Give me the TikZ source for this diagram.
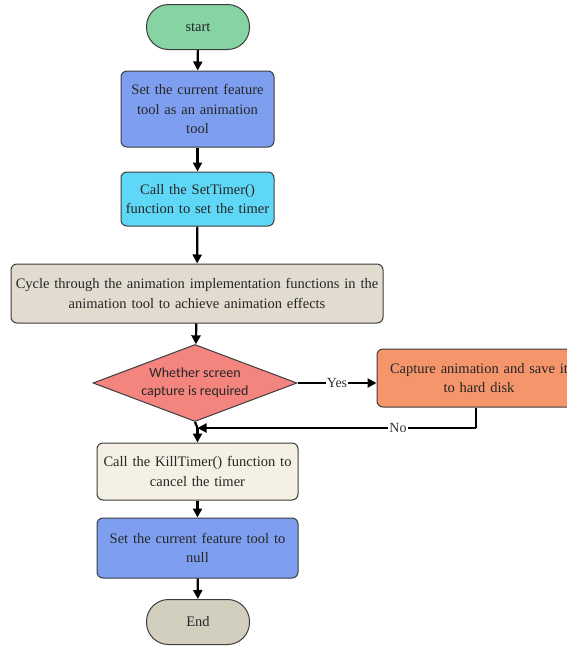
\documentclass[tikz,border=0pt]{standalone}
\usepackage{fontspec}
\setmainfont{Liberation Serif}
\newfontfamily\diafont{Carlito}
\usetikzlibrary{shapes.geometric,arrows.meta}
\definecolor{cstart}{HTML}{86D4A3}
\definecolor{cblue}{HTML}{7E9FF0}
\definecolor{ccyan}{HTML}{5FD8F8}
\definecolor{cbeige}{HTML}{E2DCD0}
\definecolor{cred}{HTML}{F4857E}
\definecolor{corange}{HTML}{F5956B}
\definecolor{clight}{HTML}{F4F0E3}
\definecolor{cend}{HTML}{D3CFBF}
\definecolor{cedge}{HTML}{3C3C3C}
\tikzset{
  base/.style={draw=cedge, line width=1pt, align=center, text=black!85,
    font=\fontsize{14.5}{19.5}\selectfont, inner sep=2pt},
  term/.style={base, rounded corners=22pt, minimum width=103pt, minimum height=45pt},
  proc/.style={base, rounded corners=6pt},
  dec/.style={base, diamond, aspect=2.65, inner sep=0pt,
    font=\diafont\fontsize{14}{18}\selectfont, minimum width=204pt, minimum height=77pt},
  arr/.style={line width=2.2pt, -{Triangle[length=9pt,width=9pt]}},
  lbl/.style={fill=white, inner sep=1pt, font=\fontsize{14}{16}\selectfont, text=black!80}
}
\begin{document}
\begin{tikzpicture}[x=1pt,y=-1pt]
\clip (0,0) rectangle (567,646);
\fill[white] (0,0) rectangle (567,646);
\node[term, fill=cstart] (s) at (198,27) {start};
\node[proc, fill=cblue, minimum width=153pt, minimum height=76pt, text width=148pt] (b1) at (197.5,109) {Set the current feature\\tool as an animation\\tool};
\node[proc, fill=ccyan, minimum width=153pt, minimum height=54pt, text width=148pt] (b2) at (197.5,199) {Call the SetTimer()\\function to set the timer};
\node[proc, fill=cbeige, minimum width=372pt, minimum height=59pt, text width=366pt] (b3) at (197,293.5) {Cycle through the animation implementation functions in the\\animation tool to achieve animation effects};
\node[dec, fill=cred] (d) at (195,383) {Whether screen\\capture is required};
\node[proc, fill=corange, minimum width=204pt, minimum height=58pt, text width=200pt] (c) at (479,378) {Capture animation and save it\\to hard disk};
\node[proc, fill=clight, minimum width=201pt, minimum height=57pt, text width=196pt] (k) at (197.5,471.5) {Call the KillTimer() function to\\cancel the timer};
\node[proc, fill=cblue, minimum width=201pt, minimum height=60pt, text width=196pt] (n) at (197.5,548) {Set the current feature tool to\\null};
\node[term, fill=cend] (e) at (198,622) {End};
\coordinate (j) at (197.5,428);
\coordinate (cr) at (476,428);
\draw[arr] (s) -- (b1);
\draw[arr] (b1) -- (b2);
\draw[arr] (b2) -- (b3);
\draw[arr] (b3) -- (d);
\draw[arr] (d.east) -- node[lbl]{Yes} (c.west |- d.east);
\draw[line width=2.2pt] (d.south) -- (j);
\draw[arr] (j) -- (k);
\draw[line width=2.2pt] (c.south -| cr) -- (cr);
\draw[arr] (cr) -- node[lbl, pos=0.28]{No} (j);
\draw[arr] (k) -- (n);
\draw[arr] (n) -- (e);
\end{tikzpicture}
\end{document}
